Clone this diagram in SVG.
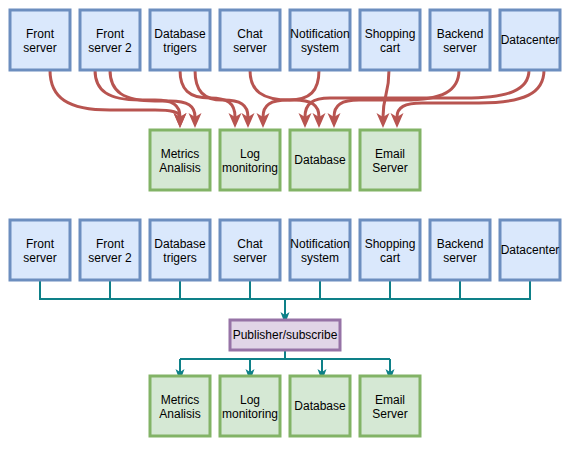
<svg xmlns="http://www.w3.org/2000/svg" width="574" height="450" viewBox="0 0 574 450">
<style>
text{font-family:"Liberation Sans",Arial,sans-serif;font-size:12px;fill:#000;text-anchor:middle}
.src rect{fill:#dae8fc;stroke:#6c8ebf;stroke-width:3}
.dst rect{fill:#d5e8d4;stroke:#82b366;stroke-width:3}
.bus rect{fill:#e1d5e7;stroke:#9673a6;stroke-width:3}
.red{fill:none;stroke:#b85450;stroke-width:3;marker-end:url(#ar)}
.teal{fill:none;stroke:#0e8088;stroke-width:2}
.teala{fill:none;stroke:#0e8088;stroke-width:2;marker-end:url(#at)}
</style>
<defs>
<marker id="ar" markerUnits="userSpaceOnUse" markerWidth="16" markerHeight="14" viewBox="0 -7 16 14" refX="4" refY="0" orient="auto">
<path d="M15,0 L0,-6.5 L4,0 L0,6.5 Z" fill="#b85450"/>
</marker>
<marker id="at" markerUnits="userSpaceOnUse" markerWidth="14" markerHeight="10" viewBox="0 -5 14 10" refX="3" refY="0" orient="auto">
<path d="M12,0 L0,-4.5 L3,0 L0,4.5 Z" fill="#0e8088"/>
</marker>
</defs>

<g id="connectors">
<g id="top-edges">
<path class="red" d="M50,70 C50,98 68,110 110,110 L155,110 C172.5,110 180,112 180,117"/>
<path class="red" d="M95,70 C95,91 108.5,100 140,100 L155,100 C172.5,100 180,105 180,117"/>
<path class="red" d="M110,70 C110,91.7 123.5,101 155,101 L170,101 C187.5,101 195,105.8 195,117"/>
<path class="red" d="M180,70 C180,89.6 189,98 210,98 C227.5,98 235,103 235,117"/>
<path class="red" d="M195,70 C195,91 203.4,100 223,100 C240.5,100 248,104.9 248,117"/>
<path class="red" d="M250,70 C250,91 262,100 290,100 L294,100 C311.5,100 319,104.9 319,117"/>
<path class="red" d="M319,70 C319,91 310,100 289,100 L288,100 C270.5,100 263,104.9 263,117"/>
<path class="red" d="M389,70 C389,95 383,95 383,117"/>
<path class="red" d="M459,70 C459,91 442.5,100 404,100 L359,100 C341.5,100 334,104.9 334,117"/>
<path class="red" d="M529,70 C529,89.6 509.5,98 464,98 L330,98 C312.5,98 305,103.7 305,117"/>
<path class="red" d="M544,70 C544,93.1 524.5,103 479,103 L422,103 C404.5,103 397,107.2 397,117"/>
</g>
<g id="bottom-edges">
<path class="teal" d="M40,280 V299 H530 V280 M110,280 V299 M180,280 V299 M250,280 V299 M320,280 V299 M390,280 V299 M460,280 V299"/>
<path class="teala" d="M285,299 V315"/>
<path class="teal" d="M285,351 V359 M180,359 H390"/>
<path class="teala" d="M180,359 V372"/>
<path class="teala" d="M250,359 V372"/>
<path class="teala" d="M322,359 V372"/>
<path class="teala" d="M390,359 V372"/>
</g>
</g>

<g id="top-front-server" class="src"><rect x="10" y="10" width="60" height="60"/><text x="40" y="38">Front</text><text x="40" y="52">server</text></g>
<g id="top-front-server-2" class="src"><rect x="80" y="10" width="60" height="60"/><text x="110" y="38">Front</text><text x="110" y="52">server 2</text></g>
<g id="top-database-trigers" class="src"><rect x="150" y="10" width="60" height="60"/><text x="180" y="38">Database</text><text x="180" y="52">trigers</text></g>
<g id="top-chat-server" class="src"><rect x="220" y="10" width="60" height="60"/><text x="250" y="38">Chat</text><text x="250" y="52">server</text></g>
<g id="top-notification-system" class="src"><rect x="290" y="10" width="60" height="60"/><text x="320" y="38">Notification</text><text x="320" y="52">system</text></g>
<g id="top-shopping-cart" class="src"><rect x="360" y="10" width="60" height="60"/><text x="390" y="38">Shopping</text><text x="390" y="52">cart</text></g>
<g id="top-backend-server" class="src"><rect x="430" y="10" width="60" height="60"/><text x="460" y="38">Backend</text><text x="460" y="52">server</text></g>
<g id="top-datacenter" class="src"><rect x="500" y="10" width="60" height="60"/><text x="530" y="44">Datacenter</text></g>

<g id="top-metrics-analisis" class="dst"><rect x="150" y="130" width="60" height="60"/><text x="180" y="158">Metrics</text><text x="180" y="172">Analisis</text></g>
<g id="top-log-monitoring" class="dst"><rect x="220" y="130" width="60" height="60"/><text x="250" y="158">Log</text><text x="250" y="172">monitoring</text></g>
<g id="top-database" class="dst"><rect x="290" y="130" width="60" height="60"/><text x="320" y="164">Database</text></g>
<g id="top-email-server" class="dst"><rect x="360" y="130" width="60" height="60"/><text x="390" y="158">Email</text><text x="390" y="172">Server</text></g>

<g id="bot-front-server" class="src"><rect x="10" y="220" width="60" height="60"/><text x="40" y="248">Front</text><text x="40" y="262">server</text></g>
<g id="bot-front-server-2" class="src"><rect x="80" y="220" width="60" height="60"/><text x="110" y="248">Front</text><text x="110" y="262">server 2</text></g>
<g id="bot-database-trigers" class="src"><rect x="150" y="220" width="60" height="60"/><text x="180" y="248">Database</text><text x="180" y="262">trigers</text></g>
<g id="bot-chat-server" class="src"><rect x="220" y="220" width="60" height="60"/><text x="250" y="248">Chat</text><text x="250" y="262">server</text></g>
<g id="bot-notification-system" class="src"><rect x="290" y="220" width="60" height="60"/><text x="320" y="248">Notification</text><text x="320" y="262">system</text></g>
<g id="bot-shopping-cart" class="src"><rect x="360" y="220" width="60" height="60"/><text x="390" y="248">Shopping</text><text x="390" y="262">cart</text></g>
<g id="bot-backend-server" class="src"><rect x="430" y="220" width="60" height="60"/><text x="460" y="248">Backend</text><text x="460" y="262">server</text></g>
<g id="bot-datacenter" class="src"><rect x="500" y="220" width="60" height="60"/><text x="530" y="254">Datacenter</text></g>

<g id="publisher-subscribe" class="bus"><rect x="230" y="320" width="110" height="30"/><text x="285" y="339">Publisher/subscribe</text></g>

<g id="bot-metrics-analisis" class="dst"><rect x="150" y="376" width="60" height="60"/><text x="180" y="404">Metrics</text><text x="180" y="418">Analisis</text></g>
<g id="bot-log-monitoring" class="dst"><rect x="220" y="376" width="60" height="60"/><text x="250" y="404">Log</text><text x="250" y="418">monitoring</text></g>
<g id="bot-database" class="dst"><rect x="290" y="376" width="60" height="60"/><text x="320" y="410">Database</text></g>
<g id="bot-email-server" class="dst"><rect x="360" y="376" width="60" height="60"/><text x="390" y="404">Email</text><text x="390" y="418">Server</text></g>
</svg>
